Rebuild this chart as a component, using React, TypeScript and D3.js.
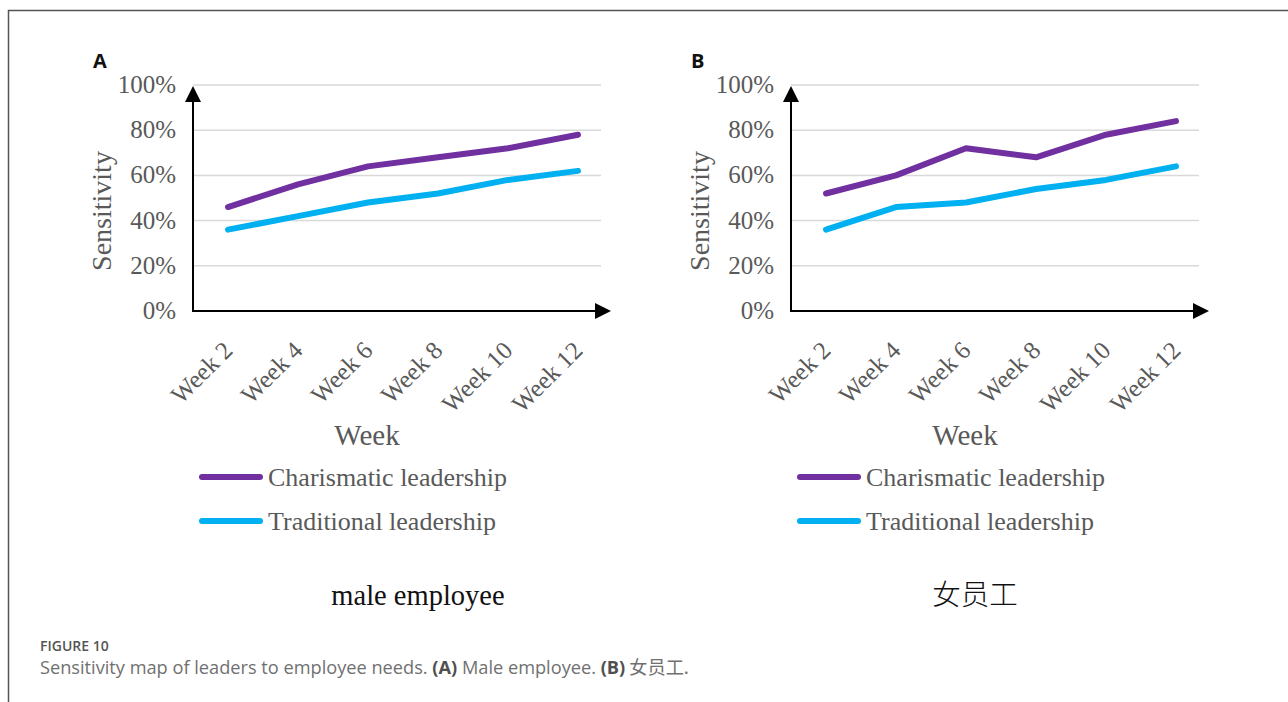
import React, { useEffect, useRef } from 'react';
import * as d3 from 'd3';

const weeks = ['Week 2', 'Week 4', 'Week 6', 'Week 8', 'Week 10', 'Week 12'];
const yTicks = [0, 0.2, 0.4, 0.6, 0.8, 1.0];

const maleCharismatic = [0.46, 0.56, 0.64, 0.68, 0.72, 0.78];
const maleTraditional = [0.36, 0.42, 0.48, 0.52, 0.58, 0.62];
const femaleCharismatic = [0.52, 0.60, 0.72, 0.68, 0.78, 0.84];
const femaleTraditional = [0.36, 0.46, 0.48, 0.54, 0.58, 0.64];

const seriesNames = ['Charismatic leadership', 'Traditional leadership'];
const seriesColors = ['#7030A0', '#00B0F0'];

const panels = [
  { letter: 'A', title: 'male employee', titleX: 418, series: [maleCharismatic, maleTraditional], offset: 0 },
  { letter: 'B', title: '女员工', titleX: 975, series: [femaleCharismatic, femaleTraditional], offset: 598 },
];

const serif = '"Liberation Serif", "Times New Roman", serif';
const sans = '"Open Sans", "Noto Sans", sans-serif';

const App = () => {
  const ref = useRef(null);

  useEffect(() => {
    if (!ref.current) return;
    const svg = d3.select(ref.current);
    svg.selectAll('*').remove();

    // page frame
    svg.append('path')
      .attr('d', 'M8.5,702 L8.5,10.5 L1288,10.5')
      .attr('fill', 'none')
      .attr('stroke', '#555')
      .attr('stroke-width', 1.5);

    const defs = svg.append('defs');
    defs.append('marker')
      .attr('id', 'arrow')
      .attr('viewBox', '0 -5 10 10')
      .attr('refX', 0)
      .attr('refY', 0)
      .attr('orient', 'auto')
      .attr('markerUnits', 'userSpaceOnUse')
      .attr('markerWidth', 16)
      .attr('markerHeight', 16)
      .append('path')
      .attr('d', 'M0,-5L10,0L0,5Z')
      .attr('fill', '#000');

    panels.forEach(p => {
      const left = 193 + p.offset;
      const right = 613 + p.offset;
      const x = d3.scalePoint().domain(weeks).range([left, right]).padding(0.5);
      const y = d3.scaleLinear().domain([0, 1]).range([311, 85]);

      const g = svg.append('g');

      g.append('text')
        .attr('x', 93 + p.offset)
        .attr('y', 68)
        .attr('font-family', sans)
        .attr('font-weight', 700)
        .attr('font-size', 20)
        .attr('fill', '#111')
        .text(p.letter);

      // gridlines
      g.selectAll('.grid')
        .data(yTicks.filter(t => t > 0))
        .enter().append('line')
        .attr('x1', left)
        .attr('x2', left + 408)
        .attr('y1', d => y(d))
        .attr('y2', d => y(d))
        .attr('stroke', '#d9d9d9')
        .attr('stroke-width', 1.5);

      // y tick labels
      g.selectAll('.ytick')
        .data(yTicks)
        .enter().append('text')
        .attr('x', 176 + p.offset)
        .attr('y', d => y(d) + 8)
        .attr('text-anchor', 'end')
        .attr('font-family', serif)
        .attr('font-size', 25)
        .attr('fill', '#595959')
        .text(d => d3.format('.0%')(d));

      // axes with arrows
      g.append('line')
        .attr('x1', left).attr('y1', y(0))
        .attr('x2', left).attr('y2', 102)
        .attr('stroke', '#000').attr('stroke-width', 2)
        .attr('marker-end', 'url(#arrow)');
      g.append('line')
        .attr('x1', left - 1).attr('y1', y(0))
        .attr('x2', 595 + p.offset).attr('y2', y(0))
        .attr('stroke', '#000').attr('stroke-width', 2)
        .attr('marker-end', 'url(#arrow)');

      // x tick labels
      g.selectAll('.xtick')
        .data(weeks)
        .enter().append('text')
        .attr('transform', d => `translate(${(x(d) as number) + 6},${y(0) + 41}) rotate(-45)`)
        .attr('text-anchor', 'end')
        .attr('font-family', serif)
        .attr('font-size', 25)
        .attr('fill', '#595959')
        .text(d => d);

      g.append('text')
        .attr('transform', `translate(${111 + p.offset},${211}) rotate(-90)`)
        .attr('text-anchor', 'middle')
        .attr('font-family', serif)
        .attr('font-size', 28)
        .attr('fill', '#595959')
        .text('Sensitivity');

      g.append('text')
        .attr('x', 367 + p.offset)
        .attr('y', 445)
        .attr('text-anchor', 'middle')
        .attr('font-family', serif)
        .attr('font-size', 29)
        .attr('fill', '#595959')
        .text('Week');

      const line = d3.line<number>()
        .x((_, i) => x(weeks[i]) as number)
        .y(d => y(d));

      p.series.forEach((s, i) => {
        g.append('path')
          .attr('d', line(s))
          .attr('fill', 'none')
          .attr('stroke', seriesColors[i])
          .attr('stroke-width', 6)
          .attr('stroke-linecap', 'round')
          .attr('stroke-linejoin', 'round');
      });

      // legend
      seriesNames.forEach((name, i) => {
        const ly = 477 + i * 44;
        g.append('line')
          .attr('x1', 202 + p.offset).attr('x2', 260 + p.offset)
          .attr('y1', ly).attr('y2', ly)
          .attr('stroke', seriesColors[i])
          .attr('stroke-width', 6)
          .attr('stroke-linecap', 'round');
        g.append('text')
          .attr('x', 268 + p.offset)
          .attr('y', ly + 9)
          .attr('font-family', serif)
          .attr('font-size', 26)
          .attr('fill', '#595959')
          .text(name);
      });

      g.append('text')
        .attr('x', p.titleX)
        .attr('y', 605)
        .attr('text-anchor', 'middle')
        .attr('font-family', p.letter === 'B' ? '"Noto Sans CJK SC", ' + serif : serif)
        .attr('font-weight', p.letter === 'B' ? 300 : 400)
        .attr('font-size', 28.5)
        .attr('fill', '#111')
        .text(p.title);
    });

    svg.append('text')
      .attr('x', 40)
      .attr('y', 651)
      .attr('font-family', sans)
      .attr('font-size', 14)
      .attr('font-weight', 600)
      .attr('fill', '#555')
      .text('FIGURE 10');

    const cap = svg.append('text')
      .attr('x', 40)
      .attr('y', 674)
      .attr('font-family', sans)
      .attr('font-size', 18.2)
      .attr('fill', '#707070');
    cap.append('tspan').text('Sensitivity map of leaders to employee needs. ');
    cap.append('tspan').attr('font-weight', 700).attr('fill', '#505050').text('(A)');
    cap.append('tspan').text(' Male employee. ');
    cap.append('tspan').attr('font-weight', 700).attr('fill', '#505050').text('(B)');
    cap.append('tspan').attr('font-family', '"Noto Sans CJK SC", sans-serif').text(' 女员工.');
  }, []);

  return (
    <svg
      ref={ref}
      width={1288}
      height={702}
      style={{ position: 'absolute', left: 0, top: 0, background: '#fff' }}
    />
  );
};

export default App;
